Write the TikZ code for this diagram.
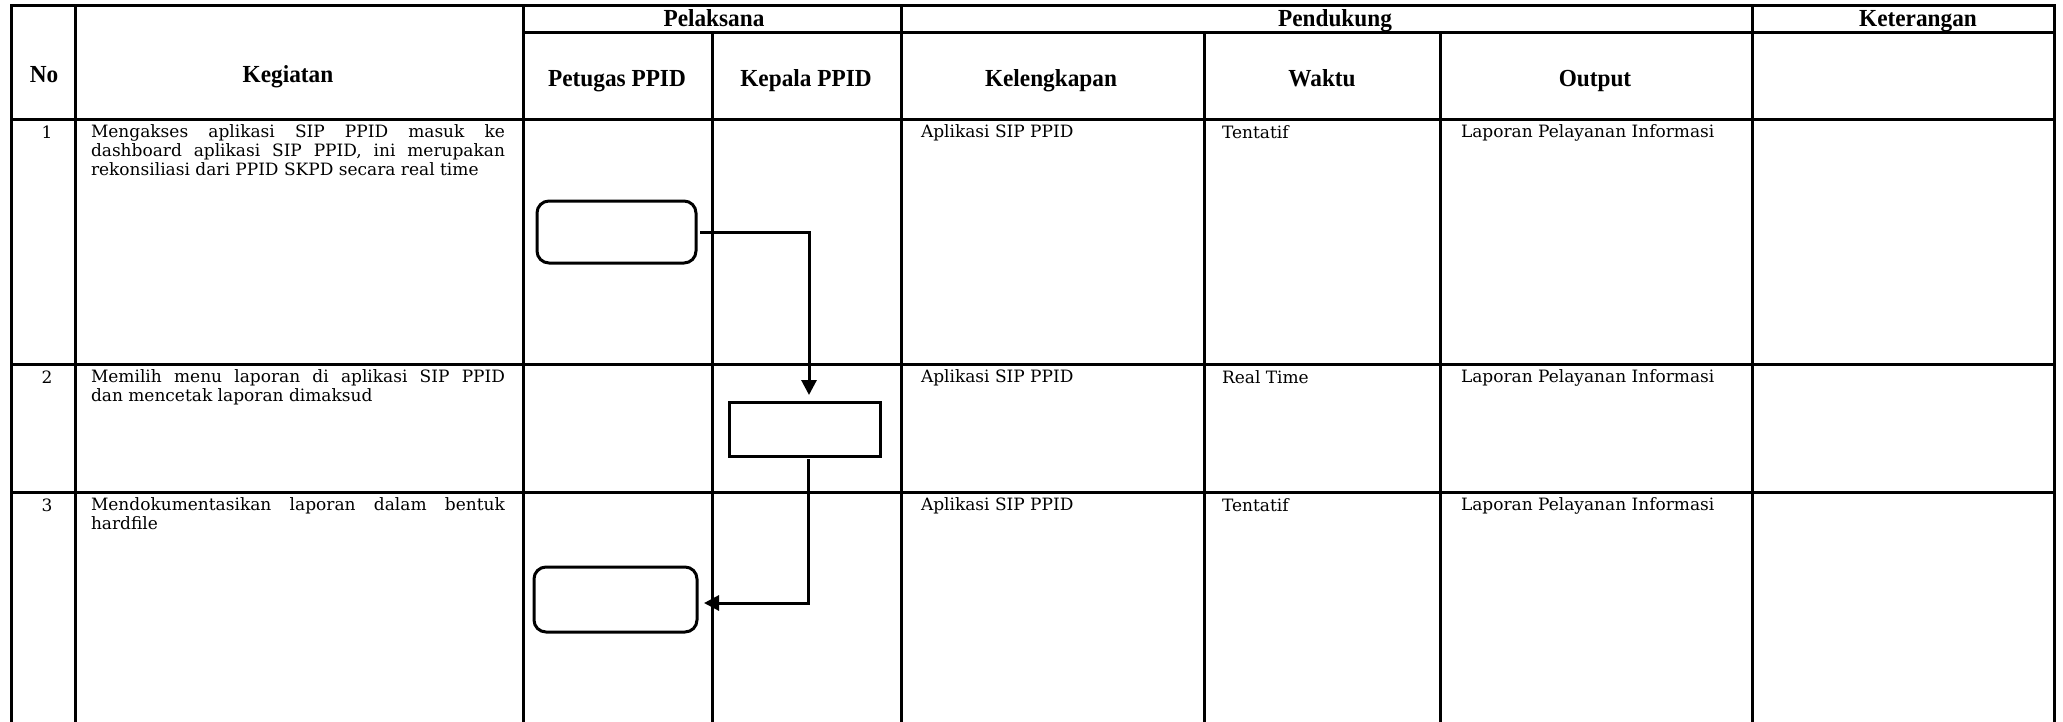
\documentclass[tikz,border=0pt]{standalone}
\usepackage{fontspec}
\setmainfont{DejaVu Serif}
\newfontfamily\headfont[FakeStretch=0.95]{Liberation Serif}
\usetikzlibrary{arrows.meta}
% one justified line of a given width
\newcommand\fullline[1]{\makebox[414pt][s]{#1}}
\tikzset{
  grid/.style={line width=3pt, line cap=rect},
  hdr/.style={font=\headfont\bfseries\fontsize{24.5}{26}\selectfont, inner sep=0, anchor=base},
  body/.style={font=\fontsize{17}{19}\selectfont, inner sep=0, outer sep=0, align=left, anchor=north west},
  num/.style={font=\fontsize{17}{19}\selectfont, inner sep=0, anchor=base},
  term/.style={draw, line width=3pt, rounded corners=12pt, inner sep=0, outer sep=0},
  proc/.style={draw, line width=3pt, inner sep=0, outer sep=0},
  flow/.style={line width=3pt, -{Triangle[length=15pt,width=15pt]}},
}
\begin{document}
\begin{tikzpicture}[x=1pt, y=-1pt]
\useasboundingbox (0,0) rectangle (2063,721);
\fill[white] (0,0) rectangle (2063,721);

% table rules
\draw[grid] (11,5) -- (2054,5);
\draw[grid] (523,32) -- (2054,32);
\draw[grid] (11,119) -- (2054,119);
\draw[grid] (11,364) -- (2054,364);
\draw[grid] (11,492) -- (2054,492);
\foreach \x in {11,75,523,901,1752,2054} \draw[grid] (\x,5) -- (\x,724);
\foreach \x in {712,1204,1440} \draw[grid] (\x,32) -- (\x,724);

% header
\node[hdr] (hNo)   at (44,82)   {No};
\node[hdr] (hKeg)  at (288,82)  {Kegiatan};
\node[hdr] (hPel)  at (714,26)  {Pelaksana};
\node[hdr] (hPend) at (1335,26) {Pendukung};
\node[hdr] (hKet)  at (1918,26) {Keterangan};
\node[hdr] (hPet)  at (617,86)  {Petugas PPID};
\node[hdr] (hKep)  at (806,86)  {Kepala PPID};
\node[hdr] (hKel)  at (1051,86) {Kelengkapan};
\node[hdr] (hWak)  at (1322,86) {Waktu};
\node[hdr] (hOut)  at (1595,86) {Output};

% row 1
\node[num]  (n1) at (47,138) {1};
\node[body] (k1) at (91,125) {\fullline{Mengakses aplikasi SIP PPID masuk ke}\\
  \fullline{dashboard aplikasi SIP PPID, ini merupakan}\\
  rekonsiliasi dari PPID SKPD secara real time};
\node[body] (l1) at (921,125)  {Aplikasi SIP PPID};
\node[body] (w1) at (1222,126) {Tentatif};
\node[body] (o1) at (1461,125) {Laporan Pelayanan Informasi};

% row 2
\node[num]  (n2) at (47,383) {2};
\node[body] (k2) at (91,370) {\fullline{Memilih menu laporan di aplikasi SIP PPID}\\
  dan mencetak laporan dimaksud};
\node[body] (l2) at (921,370)  {Aplikasi SIP PPID};
\node[body] (w2) at (1222,371) {Real Time};
\node[body] (o2) at (1461,370) {Laporan Pelayanan Informasi};

% row 3
\node[num]  (n3) at (47,511) {3};
\node[body] (k3) at (91,498) {\fullline{Mendokumentasikan laporan dalam bentuk}\\
  hardfile};
\node[body] (l3) at (921,498)  {Aplikasi SIP PPID};
\node[body] (w3) at (1222,499) {Tentatif};
\node[body] (o3) at (1461,498) {Laporan Pelayanan Informasi};

% flow symbols
\node[term, minimum width=159pt, minimum height=62pt] (s1) at (616.5,232) {};
\node[proc, minimum width=151pt, minimum height=54pt] (s2) at (804.5,429) {};
\node[term, minimum width=163pt, minimum height=65pt] (s3) at (615.5,599.5) {};

% connectors
\draw[flow] ([xshift=4pt]s1.east) -| ([xshift=4.5pt,yshift=7pt]s2.north);
\draw[flow] ([xshift=3.5pt,yshift=-3pt]s2.south) |- ([xshift=7pt,yshift=-3.5pt]s3.east);
\end{tikzpicture}
\end{document}
